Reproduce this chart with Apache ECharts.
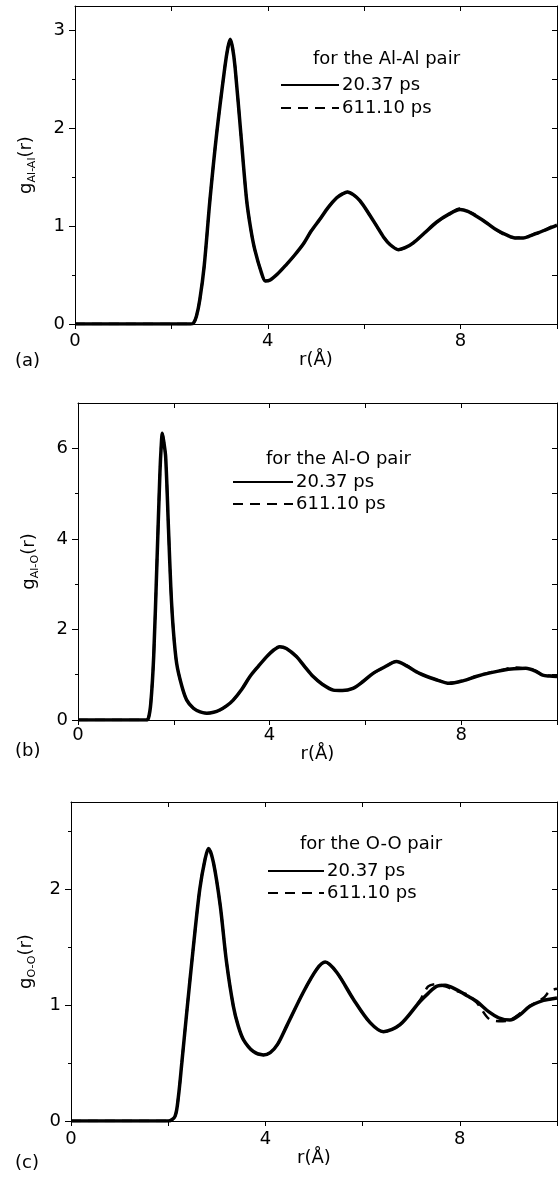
<!DOCTYPE html>
<html><head><meta charset="utf-8">
<script src="https://cdn.jsdelivr.net/npm/echarts@6/dist/echarts.min.js"></script>
<style>html,body{margin:0;padding:0;background:#fff}#c{width:559px;height:1177px}</style>
</head><body><div id="c"></div>
<script>
// ---------- data ----------
const seriesNames = ['20.37 ps', '611.10 ps'];
const xTicks = [0, 2, 4, 6, 8, 10];
const xLabels = [0, 4, 8];

// (a) Al-Al
const rAlAl = [0,2.40,2.46,2.52,2.59,2.68,2.80,2.94,3.11,3.17,3.22,3.27,3.32,3.44,3.56,3.65,3.73,3.87,3.95,4.05,4.20,4.39,4.55,4.74,4.90,5.08,5.25,5.43,5.55,5.65,5.78,5.91,6.08,6.26,6.40,6.54,6.71,6.85,7.02,7.25,7.50,7.75,7.99,8.15,8.33,8.55,8.75,8.95,9.13,9.30,9.44,9.60,9.75,9.90,10.0];
const gAlAl20 = [0,0,0.01,0.08,0.25,0.59,1.27,1.95,2.63,2.82,2.91,2.82,2.63,1.95,1.27,0.96,0.76,0.52,0.44,0.45,0.51,0.61,0.70,0.82,0.95,1.07,1.19,1.29,1.33,1.35,1.32,1.26,1.14,1.00,0.89,0.81,0.76,0.78,0.83,0.93,1.04,1.12,1.17,1.15,1.10,1.03,0.96,0.91,0.88,0.88,0.90,0.93,0.96,0.99,1.01];
const gAlAl611 = [0,0,0.01,0.08,0.25,0.59,1.27,1.95,2.63,2.82,2.91,2.82,2.63,1.95,1.27,0.96,0.76,0.52,0.44,0.45,0.51,0.61,0.70,0.82,0.95,1.07,1.19,1.29,1.33,1.35,1.32,1.26,1.14,1.00,0.89,0.81,0.76,0.78,0.83,0.93,1.04,1.12,1.18,1.15,1.11,1.03,0.96,0.90,0.88,0.89,0.90,0.94,0.96,1.00,1.01];
const yMaxA = 3.25, yMajorA = [0,1,2,3], yMinorA = [0.5,1.5,2.5], yRightA = [0.5,1,1.5,2,2.5,3];

// (b) Al-O
const rAlO = [0,1.42,1.47,1.52,1.58,1.65,1.71,1.74,1.76,1.79,1.83,1.89,1.94,1.99,2.06,2.17,2.27,2.41,2.55,2.69,2.83,2.96,3.10,3.24,3.42,3.59,3.76,3.94,4.08,4.21,4.35,4.56,4.74,4.91,5.10,5.33,5.52,5.74,5.95,6.16,6.40,6.65,6.85,7.13,7.45,7.76,8.05,8.31,8.60,8.87,9.10,9.35,9.55,9.70,9.85,10.0];
const gAlO20 = [0,0,0.04,0.37,1.40,3.54,5.45,6.10,6.33,6.15,5.81,4.20,2.87,1.99,1.25,0.74,0.44,0.26,0.18,0.15,0.17,0.22,0.31,0.44,0.68,0.96,1.18,1.40,1.54,1.62,1.58,1.40,1.17,0.96,0.79,0.66,0.65,0.70,0.85,1.03,1.17,1.29,1.20,1.03,0.90,0.81,0.87,0.96,1.04,1.10,1.13,1.14,1.08,0.99,0.97,0.96];
const gAlO611 = [0,0,0.04,0.37,1.40,3.54,5.45,6.10,6.33,6.15,5.81,4.20,2.87,1.99,1.25,0.74,0.44,0.26,0.18,0.15,0.17,0.22,0.31,0.44,0.68,0.96,1.18,1.40,1.54,1.62,1.58,1.40,1.17,0.96,0.79,0.66,0.65,0.70,0.85,1.03,1.17,1.30,1.21,1.03,0.90,0.82,0.86,0.97,1.05,1.11,1.16,1.13,1.09,0.99,0.98,0.96];
const yMaxB = 7, yMajorB = [0,2,4,6], yMinorB = [1,3,5], yRightB = [1,2,3,4,5,6];

// (c) O-O
const rOO = [0,2.00,2.14,2.21,2.28,2.38,2.52,2.65,2.76,2.83,2.93,3.07,3.20,3.34,3.44,3.55,3.75,3.96,4.10,4.25,4.44,4.78,5.06,5.23,5.47,5.81,6.15,6.43,6.77,7.18,7.35,7.52,7.70,7.94,8.15,8.35,8.60,8.80,9.03,9.25,9.44,9.72,9.85,10.0];
const gOO20 = [0,0,0.04,0.21,0.50,0.93,1.51,2.00,2.26,2.35,2.23,1.86,1.37,0.99,0.82,0.70,0.60,0.57,0.59,0.66,0.82,1.11,1.31,1.37,1.28,1.05,0.85,0.77,0.83,1.03,1.10,1.16,1.17,1.13,1.08,1.03,0.94,0.89,0.87,0.92,0.99,1.04,1.05,1.06];
const gOO611 = [0,0,0.04,0.21,0.50,0.93,1.51,2.00,2.26,2.35,2.23,1.86,1.37,0.99,0.82,0.70,0.60,0.57,0.59,0.66,0.82,1.11,1.31,1.37,1.28,1.05,0.85,0.77,0.83,1.04,1.16,1.18,1.16,1.12,1.09,1.02,0.88,0.86,0.87,0.93,0.99,1.06,1.12,1.14];
const yMaxC = 2.75, yMajorC = [0,1,2], yMinorC = [0.5,1.5,2.5], yRightC = [0.5,1,1.5,2,2.5];

// ---------- layout / style ----------
const FONT = 'DejaVu Sans';
const panels = [
  { r: rAlAl, g: [gAlAl20, gAlAl611], yMax: yMaxA, major: yMajorA, minor: yMinorA, right: yRightA,
    grid: {left: 75, top: 6, width: 482, height: 318}, sub: 'Al-Al', pair: 'for the Al-Al pair',
    pairPos: {left: 313, top: 50}, legPos: {left: 280, top: 76}, legW: 58, legGap: 5,
    tag: '(a)', tagTop: 352, xMargin: 8, xNameGap: 21, yNameGap: 37 },
  { r: rAlO, g: [gAlO20, gAlO611], yMax: yMaxB, major: yMajorB, minor: yMinorB, right: yRightB,
    grid: {left: 78, top: 403, width: 479, height: 317}, sub: 'Al-O', pair: 'for the Al-O pair',
    pairPos: {left: 266, top: 450}, legPos: {left: 232, top: 473}, legW: 60, legGap: 4,
    tag: '(b)', tagTop: 742, xMargin: 6, xNameGap: 16, yNameGap: 37 },
  { r: rOO, g: [gOO20, gOO611], yMax: yMaxC, major: yMajorC, minor: yMinorC, right: yRightC,
    grid: {left: 71, top: 802, width: 486, height: 319}, sub: 'O-O', pair: 'for the O-O pair',
    pairPos: {left: 300, top: 835}, legPos: {left: 267, top: 862}, legW: 56, legGap: 4,
    tag: '(c)', tagTop: 1154, xMargin: 9, xNameGap: 25, yNameGap: 33 }
];

const black = '#000';
const option = { animation: false, backgroundColor: '#fff', grid: [], xAxis: [], yAxis: [], series: [], title: [], legend: [] };

panels.forEach((p, i) => {
  option.grid.push(Object.assign({containLabel: false}, p.grid));
  const xb = option.xAxis.length;
  option.xAxis.push({
    type: 'value', gridIndex: i, min: 0, max: 10, interval: 2, position: 'bottom',
    axisLine: {show: true, lineStyle: {color: black, width: 1}},
    axisTick: {show: true, inside: false, length: 5, lineStyle: {color: black}, customValues: xTicks},
    axisLabel: {show: true, customValues: xLabels, margin: p.xMargin, color: black, fontSize: 18, fontFamily: FONT},
    splitLine: {show: false},
    name: 'r(Å)', nameLocation: 'middle', nameGap: p.xNameGap,
    nameTextStyle: {color: black, fontSize: 18, fontFamily: FONT, verticalAlign: 'top'}
  });
  option.xAxis.push({
    type: 'value', gridIndex: i, min: 0, max: 10, interval: 2, position: 'top',
    axisLine: {show: true, onZero: false, lineStyle: {color: black, width: 1}},
    axisTick: {show: true, inside: true, length: 5, lineStyle: {color: black}, customValues: xTicks},
    axisLabel: {show: false}, splitLine: {show: false}
  });
  const yl = option.yAxis.length;
  option.yAxis.push({
    type: 'value', gridIndex: i, min: 0, max: p.yMax, position: 'left',
    axisLine: {show: true, onZero: false, lineStyle: {color: black, width: 1}},
    axisTick: {show: true, inside: false, length: 6, lineStyle: {color: black}, customValues: p.major},
    axisLabel: {show: true, customValues: p.major, margin: 10, color: black, fontSize: 18, fontFamily: FONT},
    splitLine: {show: false},
    name: '{g|g}{s|' + p.sub + '}{g|(r)}', nameLocation: 'middle', nameRotate: 90, nameGap: p.yNameGap,
    nameTextStyle: {
      color: black, fontFamily: FONT,
      rich: {
        g: {fontSize: 18, fontFamily: FONT, color: black, lineHeight: 24, verticalAlign: 'middle'},
        s: {fontSize: 11, fontFamily: FONT, color: black, lineHeight: 24, verticalAlign: 'bottom'}
      }
    }
  });
  option.yAxis.push({
    type: 'value', gridIndex: i, min: 0, max: p.yMax, position: 'left',
    axisLine: {show: false},
    axisTick: {show: true, inside: false, length: 3, lineStyle: {color: black}, customValues: p.minor},
    axisLabel: {show: false}, splitLine: {show: false}
  });
  option.yAxis.push({
    type: 'value', gridIndex: i, min: 0, max: p.yMax, position: 'right',
    axisLine: {show: true, onZero: false, lineStyle: {color: black, width: 1}},
    axisTick: {show: true, inside: true, length: 5, lineStyle: {color: black}, customValues: p.right},
    axisLabel: {show: false}, splitLine: {show: false}
  });
  // dashed first, solid on top
  [1, 0].forEach(k => {
    option.series.push({
      type: 'line', name: seriesNames[k], xAxisIndex: xb, yAxisIndex: yl,
      data: p.r.map((x, j) => [x, p.g[k][j]]),
      symbol: 'none', smooth: 0.3, z: k === 0 ? 3 : 2,
      lineStyle: k === 0 ? {color: black, width: 3.5, type: 'solid'} : {color: black, width: 2.5, type: [10, 7]},
      itemStyle: {color: black}
    });
  });
  option.title.push({
    text: p.pair, left: p.pairPos.left, top: p.pairPos.top, padding: 0,
    textStyle: {fontSize: 18, fontWeight: 'normal', color: black, fontFamily: FONT}
  });
  option.title.push({
    text: p.tag, left: 15, top: p.tagTop, padding: 0,
    textStyle: {fontSize: 18, fontWeight: 'normal', color: black, fontFamily: FONT}
  });
  option.legend.push({
    data: seriesNames, orient: 'vertical', left: p.legPos.left, top: p.legPos.top, padding: 0,
    itemWidth: p.legW, itemHeight: 18, itemGap: p.legGap, selectedMode: false,
    itemStyle: {opacity: 0},
    textStyle: {fontSize: 18, color: black, fontFamily: FONT, padding: [0, 0, 0, -2]}
  });
});

const chart = echarts.init(document.getElementById('c'), null, {renderer: 'canvas'});
chart.setOption(option);
</script></body></html>
